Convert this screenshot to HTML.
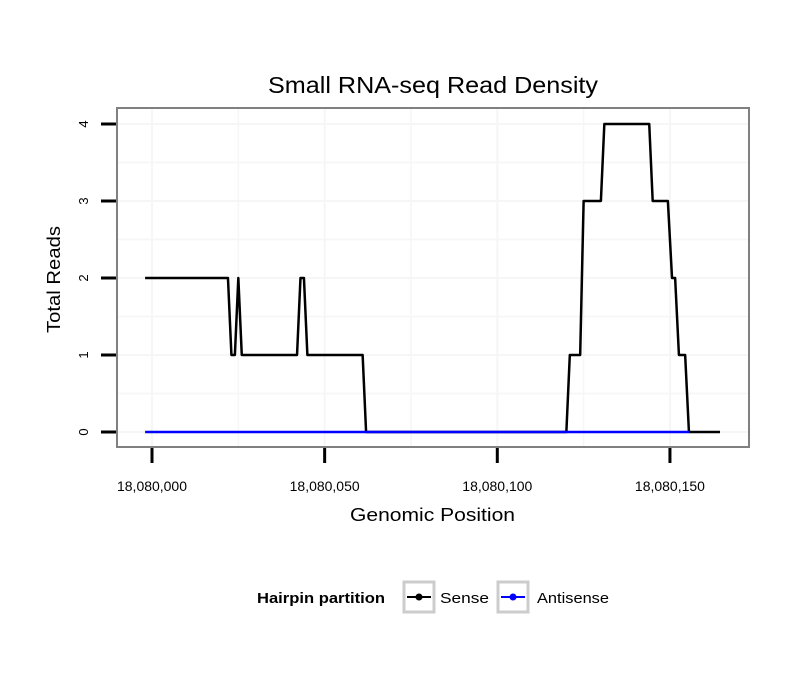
<!DOCTYPE html>
<html><head><meta charset="utf-8"><style>
body{margin:0;background:#fff}
svg text{font-family:"Liberation Sans",sans-serif}
</style></head><body>
<svg id="chart" width="810" height="690" xmlns="http://www.w3.org/2000/svg">
<rect width="810" height="690" fill="#fff"/>
<g id="grid"></g>
<g id="marks"></g>
<rect x="117" y="108" width="632" height="339" fill="none" stroke="#808080" stroke-width="2"/>
<g id="axes"></g>
<text x="268" y="93" font-size="23" textLength="330" lengthAdjust="spacingAndGlyphs">Small RNA-seq Read Density</text>
<text x="350" y="521" font-size="18" textLength="165" lengthAdjust="spacingAndGlyphs">Genomic Position</text>
<text transform="translate(60,333) rotate(-90)" font-size="18" textLength="107" lengthAdjust="spacingAndGlyphs">Total Reads</text>
<g>
<text x="257" y="603" font-size="15" font-weight="bold" textLength="128" lengthAdjust="spacingAndGlyphs">Hairpin partition</text>
<g>
<rect x="404" y="582" width="30" height="30" fill="#fff" stroke="#ccc" stroke-width="3"/>
<line x1="407" y1="597" x2="431" y2="597" stroke="#000" stroke-width="2"/><circle cx="419" cy="597" r="3.5" fill="#000"/>
<text x="440" y="603" font-size="15" textLength="49" lengthAdjust="spacingAndGlyphs">Sense</text></g>
<g>
<rect x="498" y="582" width="30" height="30" fill="#fff" stroke="#ccc" stroke-width="3"/>
<line x1="501" y1="597" x2="525" y2="597" stroke="#0000ff" stroke-width="2"/><circle cx="513" cy="597" r="3.5" fill="#0000ff"/>
<text x="537" y="603" font-size="15" textLength="72" lengthAdjust="spacingAndGlyphs">Antisense</text></g>
</g>
</svg>
<script>
const sensePos=[-2,22,23,24,25,26,42,43,44,45,61,62,120,121,124,125,130,131,144,145,149.4,150.6,151.5,152.6,154.4,155.5,164.5];
const senseVal=[2,2,1,1,2,1,1,2,2,1,1,0,0,1,1,3,3,4,4,3,3,2,2,1,1,0,0];
const antisensePos=[-2,155.5];
const antisenseVal=[0,0];
const xTicks=[0,50,100,150];
const xTickLabels=["18,080,000","18,080,050","18,080,100","18,080,150"];
const yTicks=[0,1,2,3,4];
const sx=v=>152+v*3.453;
const sy=v=>432-v*77;
const NS="http://www.w3.org/2000/svg";
function mk(t,a,p){const e=document.createElementNS(NS,t);for(const k in a)e.setAttribute(k,a[k]);p.appendChild(e);return e;}
const grid=document.getElementById('grid'),axes=document.getElementById('axes'),marks=document.getElementById('marks');
for(let v=-0.5;v<=4.5;v+=0.5){const y=sy(v);if(y<109||y>446)continue;
 const l=mk('line',{x1:118,x2:748,y1:y,y2:y,stroke:'#f6f6f6','stroke-width':v%1===0?2:1.5},grid);
 }
for(let v=-25;v<=175;v+=25){const x=sx(v);if(x<118||x>748)continue;
 const l=mk('line',{x1:x,x2:x,y1:109,y2:446,stroke:'#f6f6f6','stroke-width':v%50===0?2:1.5},grid);
 }
xTicks.forEach((v,i)=>{const x=sx(v);
 const t=mk('line',{x1:x,x2:x,y1:448,y2:463,stroke:'#000','stroke-width':3},axes);
 
 const tx=mk('text',{x:x-35,y:491,'font-size':13.5,textLength:70,lengthAdjust:'spacingAndGlyphs'},axes);tx.textContent=xTickLabels[i];
 });
yTicks.forEach(v=>{const y=sy(v);
 const t=mk('line',{x1:101,x2:116,y1:y,y2:y,stroke:'#000','stroke-width':3},axes);
 
 const tx=mk('text',{transform:`translate(88,${y}) rotate(-90)`,'font-size':13,'text-anchor':'middle'},axes);tx.textContent=v;
 });
function line(px,vals,col,name){const p=mk('polyline',{points:px.map((x,i)=>sx(x)+','+sy(vals[i])).join(' '),fill:'none',stroke:col,'stroke-width':2.5,'stroke-linejoin':'round'},marks);
 }
line(sensePos,senseVal,'#000','sense-line');
line(antisensePos,antisenseVal,'#0000ff','antisense-line');
</script>
</body></html>
